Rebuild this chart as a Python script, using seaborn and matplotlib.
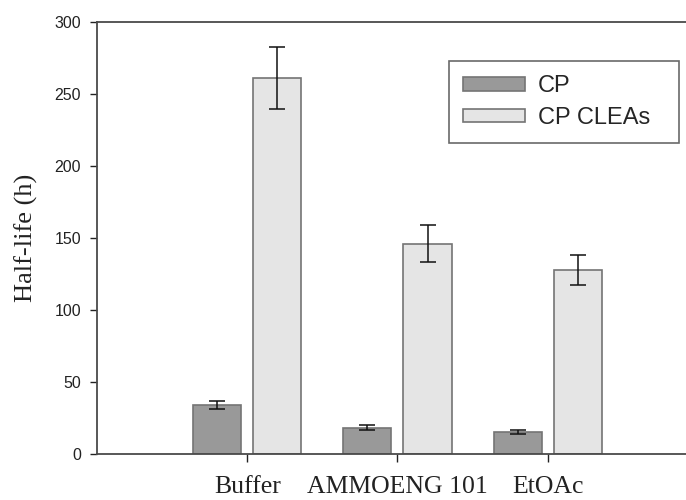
import matplotlib
matplotlib.use("Agg")
import matplotlib.pyplot as plt
import seaborn as sns
import pandas as pd

# Half-life of free CP and CP CLEAs in three media
media = ["Buffer", "AMMOENG 101", "EtOAc"]
cp_half_life = [34.2, 18.3, 15.5]
cp_err = [2.7, 1.8, 1.5]
clea_half_life = [261.0, 146.0, 128.0]
clea_err = [21.5, 12.7, 10.4]
series = ["CP", "CP CLEAs"]
y_ticks = [0, 50, 100, 150, 200, 250, 300]

sns.set_style("white")

df = pd.DataFrame({
    "medium": media * 2,
    "enzyme": [series[0]] * 3 + [series[1]] * 3,
    "half_life": cp_half_life + clea_half_life,
    "err": cp_err + clea_err,
})

fig = plt.figure(figsize=(6.86, 5.0), dpi=100)
ax = fig.add_axes([0.1414, 0.092, 0.876, 0.864])

sns.barplot(data=df, x="medium", y="half_life", hue="enzyme",
            order=media, hue_order=series,
            palette=["#999999", "#e5e5e5"], errorbar=None,
            width=0.8, gap=0.2, edgecolor="#747474", linewidth=1.2,
            ax=ax)

# error bars at the bar centres
for cont, s in zip(ax.containers, series):
    sub = df[df["enzyme"] == s].set_index("medium").loc[media]
    xs = [p.get_x() + p.get_width() / 2 for p in cont.patches]
    ax.errorbar(xs, sub["half_life"], yerr=sub["err"], fmt="none",
                ecolor="#111111", elinewidth=1.1, capsize=6, capthick=1.1,
                zorder=5)

ax.set_xlim(-1, 3)
ax.set_ylim(0, 300)
ax.set_yticks(y_ticks)
ax.set_yticklabels([str(t) for t in y_ticks], fontfamily="Liberation Sans",
                   fontsize=11.5)
ax.set_xticks(range(len(media)))
ax.set_xticklabels(media, fontfamily="Liberation Serif", fontsize=18.5)
ax.tick_params(axis="x", direction="out", length=6, width=1, pad=10,
               bottom=True, colors="#222222")
ax.tick_params(axis="y", direction="out", length=5, width=1, pad=6.5,
               left=True, colors="#222222")
ax.set_xlabel("")
ax.set_ylabel("Half-life (h)", fontfamily="Liberation Serif", fontsize=19,
              color="#222222", va="center")
ax.yaxis.set_label_coords(-0.118, 0.5)

for side in ["left", "bottom", "top"]:
    ax.spines[side].set_visible(True)
    ax.spines[side].set_color("#4a4a4a")
    ax.spines[side].set_linewidth(1.3)
ax.spines["right"].set_visible(False)

leg = ax.legend(loc="upper left",
                bbox_to_anchor=(0.6545, 0.706, 0.3353, 0.172),
                bbox_transform=fig.transFigure, mode="expand",
                frameon=True, fancybox=False, edgecolor="#444444",
                prop={"family": "Liberation Sans", "size": 17},
                handlelength=2.63, handleheight=0.5, handletextpad=0.55,
                borderpad=0.6, borderaxespad=0, labelspacing=0.4)
leg.get_frame().set_linewidth(1.2)
leg.set_title(None)

fig.savefig("out.png", dpi=100)
